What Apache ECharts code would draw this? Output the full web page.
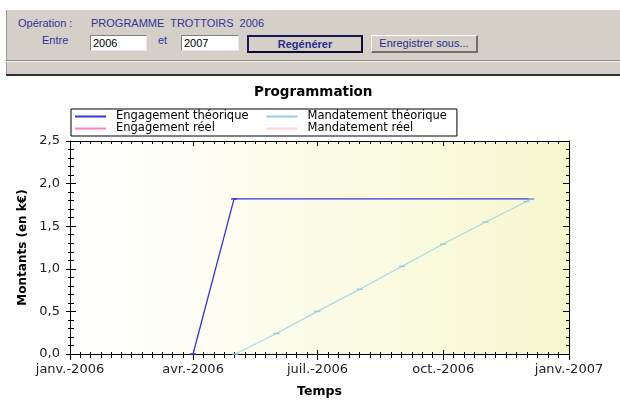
<!DOCTYPE html>
<html>
<head>
<meta charset="utf-8">
<script src="https://cdn.jsdelivr.net/npm/echarts@6/dist/echarts.min.js"></script>
<style>
  html, body { margin: 0; padding: 0; background: #ffffff; width: 620px; height: 403px; overflow: hidden; }
  #chart { position: absolute; left: 0; top: 0; width: 620px; height: 403px; }
  .ui { position: absolute; font-family: "Liberation Sans", Arial, sans-serif; font-size: 11px; color: #33339a; white-space: nowrap; }
  .panel { position: absolute; left: 6px; top: 10px; width: 614px; height: 65px; background: #d4d0c8; border-left: 1px solid #9a978f; box-sizing: border-box; }
  .sep { position: absolute; left: 6px; top: 60px; width: 614px; height: 1px; background: #8c8a84; }
  .sep2 { position: absolute; left: 6px; top: 61px; width: 614px; height: 1px; background: #f0eee8; }
  .bottomline { position: absolute; left: 6px; top: 74px; width: 614px; height: 2px; background: #303030; }
  .input { position: absolute; height: 16px; background: #fff; box-sizing: border-box; border-top: 1px solid #808080; border-left: 1px solid #808080; border-right: 1px solid #e8e8e8; border-bottom: 1px solid #e8e8e8; font-family: "Liberation Sans", Arial, sans-serif; font-size: 11px; color: #000; line-height: 14px; padding-left: 2px; }
  .btn { position: absolute; background: #d4d0c8; box-sizing: border-box; text-align: center; font-family: "Liberation Sans", Arial, sans-serif; font-size: 11px; color: #2b2b8c; }
</style>
</head>
<body>
<div id="chart"></div>
<div class="panel"></div>
<div class="sep"></div>
<div class="sep2"></div>
<div class="bottomline"></div>
<div class="ui" style="left:18px; top:17px;">Opération :</div>
<div class="ui" style="left:91px; top:17px; word-spacing:3px;">PROGRAMME TROTTOIRS 2006</div>
<div class="ui" style="left:42px; top:34px;">Entre</div>
<div class="input" style="left:90px; top:35px; width:57px;">2006</div>
<div class="ui" style="left:158px; top:34px;">et</div>
<div class="input" style="left:181px; top:35px; width:58px;">2007</div>
<div class="btn" style="left:247px; top:35px; width:116px; height:18px; border:2px solid #1a1a5a; border-right-color:#0a0a30; border-bottom-color:#0a0a30; font-weight:bold; line-height:14px;">Regénérer</div>
<div class="btn" style="left:371px; top:35px; width:107px; height:18px; border-top:1px solid #ffffff; border-left:1px solid #ffffff; border-right:2px solid #707070; border-bottom:2px solid #707070; line-height:15px;">Enregistrer sous...</div>
<script>
// ---- data ----
const quarterDates = ['2006-01-01', '2006-04-01', '2006-07-01', '2006-10-01', '2007-01-01'];
const quarterLabels = ['janv.-2006', 'avr.-2006', 'juil.-2006', 'oct.-2006', 'janv.-2007'];

const engagementTheoDates = ['2006-04-01', '2006-05-01', '2006-12-04'];
const engagementTheoValues = [0, 1.82, 1.82];

const mandatementTheoDates = ['2006-05-02', '2006-06-01', '2006-07-01', '2006-08-01', '2006-09-01', '2006-10-01', '2006-11-01', '2006-12-01', '2006-12-04'];
const mandatementTheoValues = [0, 0.24, 0.50, 0.76, 1.03, 1.29, 1.55, 1.79, 1.82];

const engagementReelDates = [];
const engagementReelValues = [];
const mandatementReelDates = [];
const mandatementReelValues = [];

const seriesNames = ['Engagement théorique', 'Engagement réel', 'Mandatement théorique', 'Mandatement réel'];

// ---- helpers ----
function ts(s) { const p = s.split('-').map(Number); return new Date(p[0], p[1] - 1, p[2]).getTime(); }
function pairs(d, v) { return d.map((x, i) => [ts(x), v[i]]); }

const quarterTs = quarterDates.map(ts);
const minorTs = [];
for (let q = 0; q < quarterTs.length - 1; q++) {
  for (let k = 1; k < 12; k++) minorTs.push(Math.round(quarterTs[q] + (quarterTs[q + 1] - quarterTs[q]) * k / 12));
}
function quarterLabel(v) {
  for (let i = 0; i < quarterTs.length; i++) if (Math.abs(quarterTs[i] - v) < 86400000) return quarterLabels[i];
  return '';
}

const FONT = '"DejaVu Sans", Verdana, sans-serif';
const xMin = quarterTs[0], xMax = quarterTs[quarterTs.length - 1];

function xAx(extra) {
  return Object.assign({
    type: 'value', gridIndex: 0, min: xMin, max: xMax, position: 'bottom',
    axisLine: { show: false }, splitLine: { show: false }, axisLabel: { show: false },
    axisTick: { show: false }, axisPointer: { show: false }
  }, extra);
}
function yAx(extra) {
  return Object.assign({
    type: 'value', gridIndex: 0, min: 0, max: 2.5, interval: 0.5, position: 'left',
    axisLine: { show: false }, splitLine: { show: false }, axisLabel: { show: false },
    axisTick: { show: false }, minorTick: { show: false }
  }, extra);
}

const chart = echarts.init(document.getElementById('chart'));
chart.setOption({
  backgroundColor: '#ffffff',
  animation: false,
  title: {
    text: 'Programmation', left: 254, top: 85, padding: 0,
    textStyle: { fontFamily: FONT, fontSize: 13.5, fontWeight: 'bold', color: '#000' }
  },
  legend: {
    orient: 'vertical', left: 71, top: 109, height: 27,
    padding: [1.5, 10, 1.5, 4], itemGap: 0,
    borderColor: '#000', borderWidth: 1, backgroundColor: '#ffffff',
    icon: 'rect', itemWidth: 31, itemHeight: 2,
    textStyle: { fontFamily: FONT, fontSize: 11.5, color: '#000', lineHeight: 11, padding: [0, 0, 0, 5] },
    data: [
      { name: seriesNames[0], textStyle: { padding: [0, 18, 0, 5] } },
      { name: seriesNames[1], textStyle: { padding: [0, 18, 0, 5] } },
      { name: seriesNames[2], textStyle: { padding: [0, 0, 0, 5] } },
      { name: seriesNames[3], textStyle: { padding: [0, 0, 0, 5] } }
    ]
  },
  grid: {
    left: 70, right: 51, top: 141, height: 220, show: true, borderWidth: 0,
    backgroundColor: new echarts.graphic.LinearGradient(0, 0, 1, 0, [
      { offset: 0, color: '#ffffff' },
      { offset: 0.12, color: '#fffffb' },
      { offset: 1, color: '#f7f7cf' }
    ])
  },
  xAxis: [
    xAx({
      axisLine: { show: true, lineStyle: { color: '#000', width: 1 } },
      axisTick: { show: true, customValues: quarterTs, length: 6, lineStyle: { color: '#000' } },
      axisLabel: { show: true, customValues: quarterTs, formatter: quarterLabel, margin: 9, showMinLabel: true, showMaxLabel: true,
        fontFamily: FONT, fontSize: 13, color: '#222' },
      name: 'Temps', nameLocation: 'middle', nameGap: 31,
      nameTextStyle: { fontFamily: FONT, fontSize: 12.5, fontWeight: 'bold', color: '#000' }
    }),
    xAx({ axisTick: { show: true, inside: true, customValues: quarterTs, length: 4, lineStyle: { color: '#000' } } }),
    xAx({ axisTick: { show: true, customValues: minorTs, length: 4, lineStyle: { color: '#000' } } }),
    xAx({ axisTick: { show: true, inside: true, customValues: minorTs, length: 2, lineStyle: { color: '#000' } } }),
    xAx({ position: 'top',
      axisLine: { show: true, lineStyle: { color: '#000', width: 1 } },
      axisTick: { show: true, inside: true, customValues: minorTs, length: 3, lineStyle: { color: '#000' } } }),
    xAx({ position: 'top', axisTick: { show: true, inside: true, customValues: quarterTs, length: 5, lineStyle: { color: '#000' } } })
  ],
  yAxis: [
    yAx({
      axisLine: { show: true, lineStyle: { color: '#000', width: 1 } },
      axisTick: { show: true, length: 4, lineStyle: { color: '#000' } },
      minorTick: { show: true, splitNumber: 5, length: 2, lineStyle: { color: '#000' } },
      axisLabel: { show: true, margin: 10, fontFamily: FONT, fontSize: 13, color: '#222',
        formatter: v => v.toFixed(1).replace('.', ',') },
      name: 'Montants (en k€)', nameLocation: 'middle', nameGap: 37,
      nameTextStyle: { fontFamily: FONT, fontSize: 12, fontWeight: 'bold', color: '#000' }
    }),
    yAx({
      axisTick: { show: true, inside: true, length: 6, lineStyle: { color: '#000' } },
      minorTick: { show: true, splitNumber: 5, length: 4, lineStyle: { color: '#000' } }
    }),
    yAx({
      position: 'right',
      axisLine: { show: true, lineStyle: { color: '#000', width: 1 } },
      axisTick: { show: true, inside: true, length: 6, lineStyle: { color: '#000' } },
      minorTick: { show: true, splitNumber: 5, length: 3, lineStyle: { color: '#000' } }
    })
  ],
  series: [
    { name: seriesNames[0], type: 'line', xAxisIndex: 0, yAxisIndex: 0,
      data: pairs(engagementTheoDates, engagementTheoValues),
      symbol: 'rect', symbolSize: [6, 1.5], showSymbol: true,
      color: '#3434dc', lineStyle: { color: '#3434dc', width: 1.3 }, itemStyle: { color: '#3434dc' } },
    { name: seriesNames[1], type: 'line', xAxisIndex: 0, yAxisIndex: 0,
      data: pairs(engagementReelDates, engagementReelValues),
      color: '#ff7fbf', lineStyle: { color: '#ff7fbf', width: 2 }, itemStyle: { color: '#ff7fbf' } },
    { name: seriesNames[2], type: 'line', xAxisIndex: 0, yAxisIndex: 0,
      data: pairs(mandatementTheoDates, mandatementTheoValues),
      symbol: 'rect', symbolSize: [6, 1.5], showSymbol: true,
      color: '#a6d8e8', lineStyle: { color: '#a6d8e8', width: 1.2 }, itemStyle: { color: '#9acbdc' } },
    { name: seriesNames[3], type: 'line', xAxisIndex: 0, yAxisIndex: 0,
      data: pairs(mandatementReelDates, mandatementReelValues),
      color: '#ffd3df', lineStyle: { color: '#ffd3df', width: 2 }, itemStyle: { color: '#ffd3df' } }
  ]
});
</script>
</body>
</html>
